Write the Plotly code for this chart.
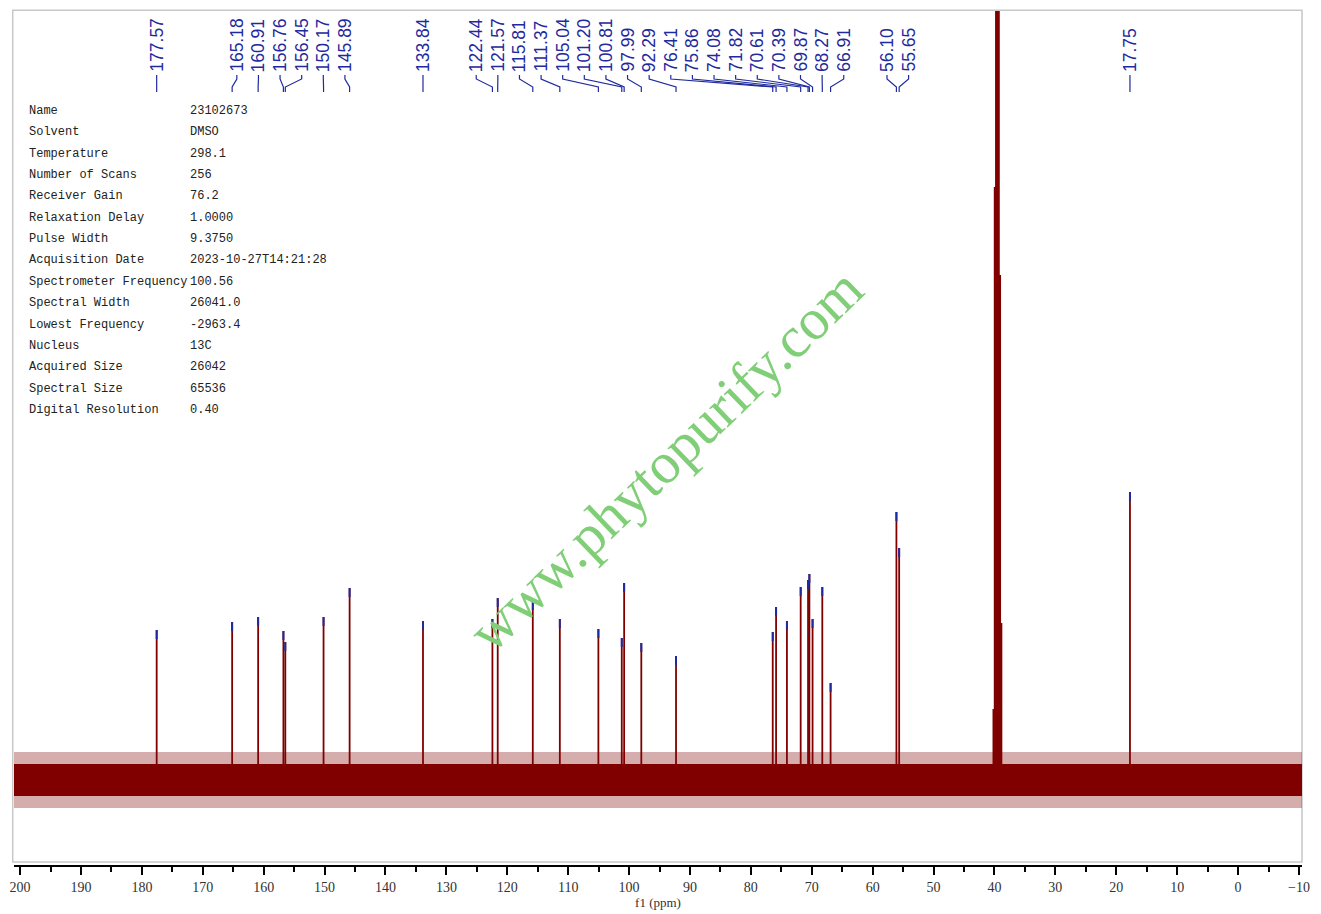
import plotly.graph_objects as go

# picked 13C peaks (ppm) and their heights (arbitrary units, baseline = 0)
peak_ppm = [177.57, 165.18, 160.91, 156.76, 156.45, 150.17, 145.89, 133.84,
            122.44, 121.57, 115.81, 111.37, 105.04, 101.20, 100.81, 97.99, 92.29,
            76.41, 75.86, 74.08, 71.82, 70.61, 70.39, 69.87, 68.27, 66.91,
            56.10, 55.65, 17.75]
peak_height = [151, 159, 164, 150, 139, 164, 193, 160,
               162, 183, 180, 162, 152, 143, 198, 138, 125,
               149, 174, 160, 194, 201, 207, 162, 194, 98,
               269, 233, 289]

# DMSO septet, not picked
solvent_ppm = [40.14, 39.93, 39.72, 39.52, 39.31, 39.10, 38.89]
solvent_height = [72, 594, 1150, 1350, 1150, 506, 158]

# spectral window and noise envelope of the baseline
window_ppm = [201.0, -10.5]
noise_core = [-15, 17]
noise_spikes = [-27, 29]

info_names = ["Name", "Solvent", "Temperature", "Number of Scans", "Receiver Gain",
              "Relaxation Delay", "Pulse Width", "Acquisition Date",
              "Spectrometer Frequency", "Spectral Width", "Lowest Frequency",
              "Nucleus", "Acquired Size", "Spectral Size", "Digital Resolution"]
info_values = ["23102673", "DMSO", "298.1", "256", "76.2", "1.0000", "9.3750",
               "2023-10-27T14:21:28", "100.56", "26041.0", "-2963.4", "13C",
               "26042", "65536", "0.40"]

RED = "#800000"
BLUE = "#1f2a9e"
TIP = 9            # length of the blue peak tip
GAP = 3.55         # min spacing between peak labels (ppm)
OFF = 8            # page body margin
PLOT_L, PLOT_R = 14, 1302      # plot area in screen pixels
PLOT_TOP, PLOT_BOT = 11, 865
BASE = 781                     # baseline row


def paper_x(pix):
    return (pix - PLOT_L) / (PLOT_R - PLOT_L)


def paper_y(pix):
    return (PLOT_BOT - pix) / (PLOT_BOT - PLOT_TOP)


# spread crowded labels: walk from right to left, groups centred on their peaks
def spread_labels(peaks, gap, sep):
    def place(g, lim):
        n = len(g)
        mid = (min(g) + max(g)) / 2
        xs = [mid + gap * (i - (n - 1) / 2) for i in range(n)]
        shift = max(0, lim - xs[0])
        return [x + shift for x in xs]

    pos = {}
    limit = -1e9
    group = []
    for p in sorted(peaks):
        if group:
            xs = place(group, limit)
            if p - xs[-1] >= sep:
                pos.update(zip(group, xs))
                limit = xs[-1] + sep
                group = []
        group.append(p)
    pos.update(zip(group, place(group, limit)))
    return [pos[p] for p in peaks]


def sticks(xs, ys, base=None):
    px, py = [], []
    for x, y in zip(xs, ys):
        px += [x, x, None]
        py += [0 if base is None else y - base, y, None]
    return px, py


fig = go.Figure()

# baseline noise band
for (lo, hi), col in [(noise_spikes, "rgba(128,0,0,0.32)"), (noise_core, RED)]:
    fig.add_trace(go.Scatter(
        x=[window_ppm[0], window_ppm[1], window_ppm[1], window_ppm[0]],
        y=[lo, lo, hi, hi], fill="toself", fillcolor=col,
        line=dict(width=0), mode="lines", hoverinfo="skip", showlegend=False))

sx, sy = sticks(solvent_ppm, solvent_height)
fig.add_trace(go.Scatter(x=sx, y=sy, mode="lines", line=dict(color=RED, width=2.2),
                         showlegend=False))

px, py = sticks(peak_ppm, peak_height)
fig.add_trace(go.Scatter(x=px, y=py, mode="lines", line=dict(color=RED, width=1.8),
                         showlegend=False))

tx, ty = sticks(peak_ppm, peak_height, base=TIP)
fig.add_trace(go.Scatter(x=tx, y=ty, mode="lines", line=dict(color=BLUE, width=2),
                         showlegend=False))

# peak labels with connectors
label_pos = spread_labels(peak_ppm, GAP, 2 * GAP)
for p, lx in zip(peak_ppm, label_pos):
    fig.add_annotation(x=lx, xref="x", y=paper_y(74), yref="paper",
                       text=f"{p:.2f}", textangle=-90, showarrow=False,
                       xanchor="center", yanchor="bottom",
                       font=dict(family="Liberation Sans, Arial", size=17.5, color=BLUE))
    fig.add_shape(type="path", xref="x", yref="paper",
                  path=f"M {lx},{paper_y(75)} L {lx},{paper_y(79)} "
                       f"L {p},{paper_y(87)} L {p},{paper_y(92)}",
                  line=dict(color=BLUE, width=1.2))

# acquisition parameters
for i, (n, v) in enumerate(zip(info_names, info_values)):
    y = paper_y(111 + i * 21.35)
    for x, t in [(27, n), (188, v)]:
        fig.add_annotation(x=paper_x(x), y=y, xref="paper", yref="paper", text=t,
                           showarrow=False, xanchor="left", yanchor="middle",
                           font=dict(family="Liberation Mono", size=12, color="#222"))

# watermark
fig.add_annotation(x=paper_x(665), y=paper_y(460), xref="paper", yref="paper",
                   text="www.phytopurify.com", textangle=-44, showarrow=False,
                   font=dict(family="Liberation Serif", size=58, color="#80cf78"))

# grey frame
fig.add_shape(type="rect", xref="paper", yref="paper", x0=-0.001, x1=1,
              y0=paper_y(862), y1=1.001, line=dict(color="#c8c8c8", width=1.5),
              layer="below")

W, H = 1321 - OFF, 914 - OFF
fig.update_layout(
    width=W, height=H,
    margin=dict(l=PLOT_L - OFF, r=W - (PLOT_R - OFF),
                t=PLOT_TOP - OFF, b=H - (PLOT_BOT - OFF), autoexpand=False),
    plot_bgcolor="white", paper_bgcolor="white",
    xaxis=dict(range=window_ppm, showgrid=False, zeroline=False,
               showline=True, linecolor="black", linewidth=2,
               ticks="outside", ticklen=8, tickwidth=1.5, tickcolor="black",
               tick0=0, dtick=10,
               minor=dict(ticks="outside", dtick=5, ticklen=5, tickwidth=1.5,
                          tickcolor="black"),
               tickfont=dict(family="Liberation Serif", size=14, color="#333"),
               title=dict(text="f1 (ppm)", standoff=0,
                          font=dict(family="Liberation Serif", size=13, color="#333"))),
    yaxis=dict(range=[-(PLOT_BOT - BASE), BASE - PLOT_TOP], visible=False),
)

fig.write_html("out.html")
